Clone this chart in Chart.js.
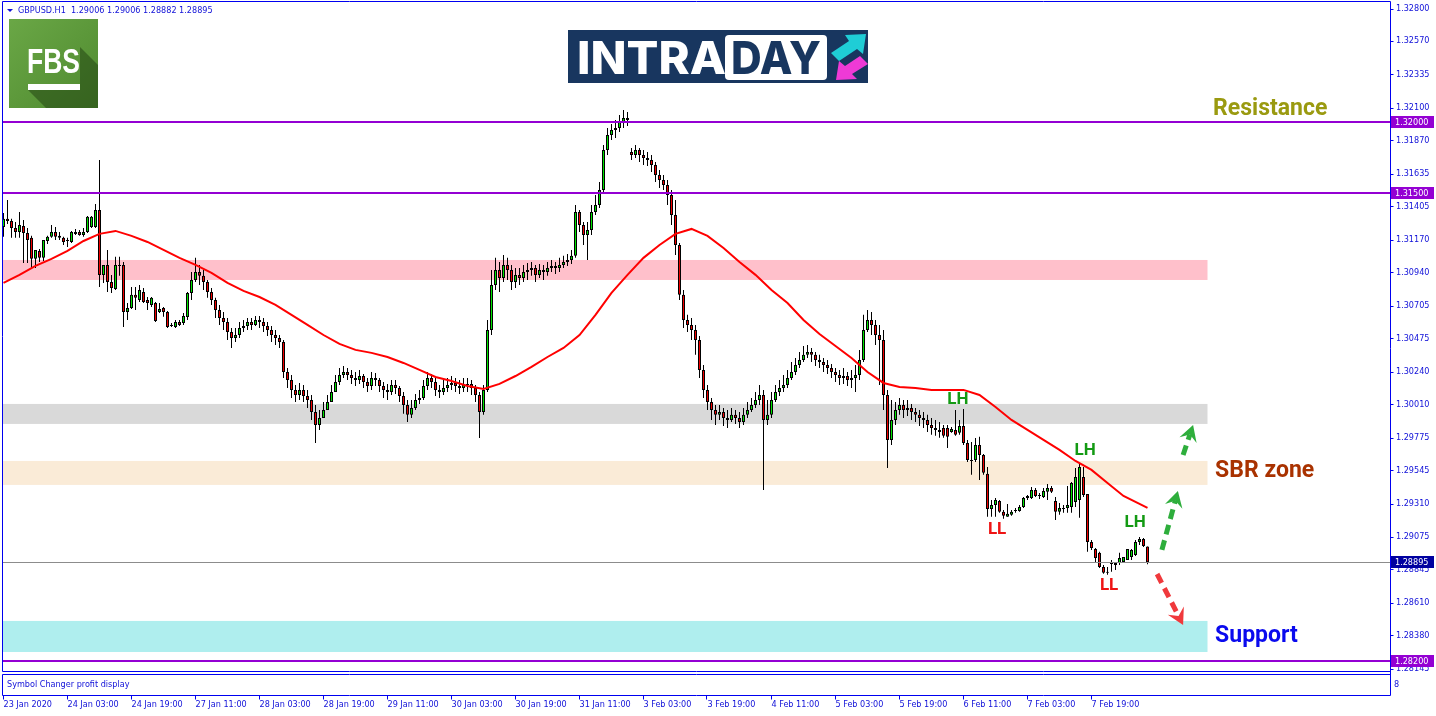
<!DOCTYPE html>
<html>
<head>
<meta charset="utf-8">
<title>GBPUSD H1</title>
<script src="https://cdn.jsdelivr.net/npm/chart.js@4.4.1/dist/chart.umd.min.js"></script>
<style>
html,body{margin:0;padding:0;background:#fff;overflow:hidden;}
canvas{display:block;}
</style>
</head>
<body>
<canvas id="chart" width="1436" height="716"></canvas>
<script>
// ---------------- data ----------------
const symbolName = 'GBPUSD.H1';
const lastBarQuote = ['1.29006', '1.29006', '1.28882', '1.28895'];
const subWindowTitle = 'Symbol Changer profit display';

const xTickLabels = ['23 Jan 2020','24 Jan 03:00','24 Jan 19:00','27 Jan 11:00','28 Jan 03:00','28 Jan 19:00',
  '29 Jan 11:00','30 Jan 03:00','30 Jan 19:00','31 Jan 11:00','3 Feb 03:00','3 Feb 19:00','4 Feb 11:00',
  '5 Feb 03:00','5 Feb 19:00','6 Feb 11:00','7 Feb 03:00','7 Feb 19:00'];
const xTickEvery = 16;

const yTickValues = [1.32800,1.32570,1.32335,1.32100,1.31870,1.31635,1.31405,1.31170,1.30940,1.30705,
  1.30475,1.30240,1.30010,1.29775,1.29545,1.29310,1.29075,1.28845,1.28610,1.28380,1.28145];

const opens = [
1.31260,1.31317,1.31302,1.31253,1.31225,1.31267,1.31218,1.31183,1.31035,1.31091,
1.31042,1.31161,1.31190,1.31225,1.31197,1.31183,1.31161,1.31154,1.31211,1.31225,
1.31204,1.31225,1.31260,1.31260,1.31380,1.30922,1.30992,1.30872,1.30823,1.30985,
1.30992,1.30661,1.30689,1.30781,1.30745,1.30802,1.30745,1.30710,1.30724,1.30661,
1.30689,1.30661,1.30562,1.30555,1.30590,1.30583,1.30625,1.30795,1.30886,1.30943,
1.30915,1.30872,1.30802,1.30745,1.30675,1.30618,1.30590,1.30520,1.30477,1.30498,
1.30548,1.30562,1.30590,1.30569,1.30604,1.30590,1.30562,1.30534,1.30498,1.30477,
1.30449,1.30237,1.30181,1.30111,1.30075,1.30111,1.30068,1.30040,1.29956,1.29864,
1.29913,1.29970,1.30026,1.30097,1.30167,1.30216,1.30237,1.30216,1.30195,1.30181,
1.30209,1.30167,1.30139,1.30195,1.30181,1.30139,1.30111,1.30097,1.30146,1.30125,
1.30068,1.30005,1.29935,1.29984,1.30040,1.30054,1.30139,1.30195,1.30167,1.30111,
1.30097,1.30125,1.30146,1.30160,1.30139,1.30125,1.30146,1.30153,1.30125,1.30075,
1.29956,1.30111,1.30534,1.30851,1.30957,1.30900,1.30992,1.30957,1.30872,1.30922,
1.30900,1.30943,1.30957,1.30971,1.30922,1.30957,1.30943,1.30971,1.30985,1.30971,
1.30992,1.31013,1.31027,1.31056,1.31366,1.31274,1.31204,1.31239,1.31366,1.31415,
1.31521,1.31803,1.31908,1.31944,1.31958,1.32000,1.32028,1.31789,1.31767,1.31803,
1.31767,1.31746,1.31732,1.31697,1.31626,1.31591,1.31556,1.31486,1.31345,1.31133,
1.30781,1.30604,1.30569,1.30534,1.30463,1.30252,1.30111,1.30026,1.29970,1.29935,
1.29956,1.29913,1.29899,1.29935,1.29913,1.29885,1.29935,1.29970,1.30005,1.30040,
1.30075,1.29899,1.29935,1.30040,1.30097,1.30125,1.30146,1.30195,1.30237,1.30287,
1.30322,1.30358,1.30379,1.30358,1.30322,1.30308,1.30287,1.30266,1.30237,1.30216,
1.30195,1.30209,1.30181,1.30195,1.30216,1.30322,1.30534,1.30604,1.30569,1.30498,
1.30463,1.30075,1.29758,1.29899,1.29970,1.30005,1.29970,1.29984,1.29956,1.29935,
1.29913,1.29899,1.29864,1.29843,1.29829,1.29843,1.29843,1.29815,1.29829,1.29808,
1.29857,1.29737,1.29617,1.29617,1.29723,1.29652,1.29519,1.29272,1.29300,1.29328,
1.29251,1.29216,1.29230,1.29258,1.29258,1.29286,1.29349,1.29349,1.29406,1.29370,
1.29356,1.29392,1.29420,1.29328,1.29251,1.29279,1.29279,1.29286,1.29321,1.29335,
1.29497,1.29377,1.29039,1.28990,1.28962,1.28863,1.28828,1.28891,1.28877,1.28891,
1.28898,1.28912,1.28933,1.28947,1.29039,1.29060,1.29006];

const highs = [
1.31359,1.31450,1.31317,1.31295,1.31366,1.31309,1.31253,1.31197,1.31098,1.31105,
1.31168,1.31197,1.31274,1.31260,1.31225,1.31190,1.31183,1.31232,1.31246,1.31239,
1.31253,1.31338,1.31338,1.31422,1.31732,1.30992,1.31098,1.30922,1.31049,1.31049,
1.31013,1.30724,1.30837,1.30837,1.30851,1.30830,1.30766,1.30766,1.30731,1.30724,
1.30696,1.30668,1.30583,1.30604,1.30604,1.30654,1.30802,1.30943,1.31042,1.30992,
1.30957,1.30886,1.30830,1.30760,1.30710,1.30661,1.30618,1.30548,1.30548,1.30590,
1.30604,1.30618,1.30618,1.30632,1.30632,1.30618,1.30590,1.30562,1.30534,1.30498,
1.30463,1.30266,1.30216,1.30146,1.30160,1.30146,1.30111,1.30075,1.30005,1.29970,
1.30026,1.30075,1.30146,1.30216,1.30266,1.30280,1.30266,1.30252,1.30237,1.30252,
1.30223,1.30195,1.30237,1.30230,1.30195,1.30167,1.30153,1.30181,1.30181,1.30139,
1.30097,1.30040,1.30040,1.30082,1.30111,1.30181,1.30237,1.30223,1.30195,1.30146,
1.30181,1.30195,1.30209,1.30195,1.30181,1.30195,1.30195,1.30181,1.30146,1.30097,
1.30146,1.30604,1.30957,1.31042,1.31013,1.31062,1.31042,1.30992,1.30971,1.30971,
1.30992,1.31006,1.31013,1.30992,1.30999,1.30992,1.31013,1.31027,1.31013,1.31042,
1.31056,1.31070,1.31098,1.31415,1.31380,1.31295,1.31295,1.31415,1.31485,1.31577,
1.31838,1.31957,1.31986,1.32014,1.32049,1.32085,1.32070,1.31817,1.31838,1.31817,
1.31803,1.31789,1.31767,1.31718,1.31662,1.31626,1.31591,1.31521,1.31450,1.31147,
1.30816,1.30640,1.30618,1.30569,1.30491,1.30287,1.30146,1.30054,1.30005,1.30005,
1.29984,1.29970,1.29984,1.29970,1.29956,1.29984,1.30026,1.30054,1.30097,1.30146,
1.30111,1.30040,1.30097,1.30146,1.30181,1.30216,1.30252,1.30308,1.30336,1.30378,
1.30421,1.30428,1.30407,1.30379,1.30358,1.30336,1.30322,1.30294,1.30266,1.30252,
1.30266,1.30237,1.30252,1.30287,1.30393,1.30640,1.30675,1.30661,1.30604,1.30569,
1.30534,1.30111,1.30040,1.30026,1.30054,1.30040,1.30040,1.30012,1.29984,1.29970,
1.29956,1.29935,1.29913,1.29899,1.29885,1.29864,1.29864,1.29850,1.29970,1.29899,
1.29977,1.29758,1.29744,1.29772,1.29780,1.29659,1.29568,1.29335,1.29349,1.29335,
1.29265,1.29307,1.29265,1.29279,1.29300,1.29356,1.29370,1.29427,1.29420,1.29384,
1.29420,1.29448,1.29434,1.29356,1.29314,1.29300,1.29434,1.29462,1.29561,1.29589,
1.29568,1.29377,1.29053,1.28997,1.28969,1.28877,1.28863,1.28912,1.28898,1.28962,
1.28933,1.28990,1.28990,1.29053,1.29074,1.29067,1.29006];

const lows = [
1.31190,1.31281,1.31183,1.31183,1.31183,1.31006,1.31006,1.30971,1.30971,1.31013,
1.31020,1.31140,1.31183,1.31168,1.31168,1.31133,1.31119,1.31147,1.31204,1.31197,
1.31190,1.31218,1.31253,1.31253,1.30837,1.30865,1.30802,1.30795,1.30816,1.30915,
1.30555,1.30604,1.30682,1.30675,1.30731,1.30724,1.30675,1.30696,1.30590,1.30654,
1.30626,1.30548,1.30555,1.30548,1.30562,1.30569,1.30604,1.30745,1.30872,1.30851,
1.30816,1.30760,1.30710,1.30618,1.30569,1.30534,1.30463,1.30407,1.30449,1.30477,
1.30520,1.30534,1.30534,1.30562,1.30548,1.30520,1.30491,1.30449,1.30428,1.30407,
1.30195,1.30125,1.30054,1.30026,1.30040,1.30026,1.29984,1.29899,1.29737,1.29829,
1.29913,1.29970,1.30026,1.30097,1.30146,1.30195,1.30181,1.30153,1.30139,1.30153,
1.30125,1.30097,1.30111,1.30139,1.30097,1.30054,1.30040,1.30075,1.30082,1.30026,
1.29942,1.29885,1.29913,1.29970,1.30012,1.30040,1.30111,1.30125,1.30068,1.30054,
1.30075,1.30097,1.30111,1.30097,1.30082,1.30097,1.30097,1.30075,1.30026,1.29772,
1.29935,1.30097,1.30498,1.30816,1.30802,1.30872,1.30886,1.30816,1.30830,1.30851,
1.30872,1.30886,1.30915,1.30872,1.30900,1.30886,1.30915,1.30943,1.30929,1.30943,
1.30971,1.30985,1.30999,1.31042,1.31225,1.31133,1.31027,1.31204,1.31345,1.31394,
1.31507,1.31767,1.31873,1.31887,1.31930,1.31958,1.31972,1.31732,1.31746,1.31718,
1.31697,1.31690,1.31647,1.31577,1.31535,1.31521,1.31415,1.31274,1.31062,1.30745,
1.30548,1.30520,1.30463,1.30358,1.30195,1.30054,1.29970,1.29899,1.29864,1.29899,
1.29857,1.29843,1.29885,1.29871,1.29843,1.29864,1.29913,1.29956,1.29984,1.30005,
1.29406,1.29864,1.29913,1.30026,1.30068,1.30097,1.30125,1.30181,1.30216,1.30266,
1.30308,1.30336,1.30308,1.30280,1.30266,1.30237,1.30223,1.30195,1.30167,1.30146,
1.30153,1.30139,1.30125,1.30097,1.30181,1.30308,1.30520,1.30498,1.30428,1.30146,
1.29970,1.29561,1.29723,1.29864,1.29935,1.29913,1.29927,1.29899,1.29885,1.29857,
1.29843,1.29815,1.29794,1.29787,1.29773,1.29773,1.29702,1.29808,1.29787,1.29794,
1.29723,1.29603,1.29512,1.29603,1.29476,1.29512,1.29216,1.29216,1.29216,1.29244,
1.29202,1.29216,1.29223,1.29244,1.29251,1.29279,1.29335,1.29342,1.29356,1.29342,
1.29349,1.29335,1.29384,1.29194,1.29230,1.29244,1.29244,1.29244,1.29286,1.29209,
1.29356,1.28969,1.28983,1.28898,1.28856,1.28814,1.28807,1.28828,1.28842,1.28877,
1.28891,1.28912,1.28912,1.28940,1.29018,1.29004,1.28882];

const closes = [
1.31317,1.31302,1.31253,1.31225,1.31274,1.31218,1.31168,1.31035,1.31098,1.31042,
1.31168,1.31190,1.31225,1.31190,1.31183,1.31154,1.31168,1.31225,1.31225,1.31204,
1.31225,1.31331,1.31331,1.31380,1.30922,1.30992,1.30872,1.30830,1.30992,1.30992,
1.30661,1.30689,1.30781,1.30760,1.30816,1.30731,1.30724,1.30760,1.30597,1.30682,
1.30661,1.30555,1.30569,1.30590,1.30569,1.30632,1.30795,1.30886,1.30943,1.30915,
1.30872,1.30802,1.30745,1.30675,1.30618,1.30590,1.30520,1.30477,1.30498,1.30548,
1.30562,1.30590,1.30569,1.30604,1.30590,1.30562,1.30534,1.30498,1.30477,1.30449,
1.30237,1.30181,1.30111,1.30075,1.30111,1.30068,1.30040,1.29956,1.29864,1.29913,
1.29970,1.30026,1.30097,1.30167,1.30216,1.30237,1.30216,1.30195,1.30181,1.30209,
1.30167,1.30139,1.30195,1.30181,1.30139,1.30111,1.30097,1.30146,1.30125,1.30068,
1.30005,1.29935,1.29984,1.30040,1.30054,1.30139,1.30195,1.30167,1.30111,1.30097,
1.30125,1.30146,1.30160,1.30139,1.30125,1.30146,1.30153,1.30125,1.30075,1.29956,
1.30111,1.30534,1.30851,1.30957,1.30900,1.30992,1.30957,1.30872,1.30922,1.30900,
1.30943,1.30957,1.30971,1.30922,1.30957,1.30943,1.30971,1.30985,1.30971,1.30992,
1.31013,1.31027,1.31056,1.31366,1.31274,1.31204,1.31239,1.31366,1.31415,1.31521,
1.31803,1.31908,1.31944,1.31958,1.32000,1.32028,1.32014,1.31767,1.31803,1.31767,
1.31746,1.31732,1.31697,1.31626,1.31591,1.31556,1.31486,1.31345,1.31133,1.30781,
1.30604,1.30569,1.30534,1.30463,1.30252,1.30111,1.30026,1.29970,1.29935,1.29956,
1.29913,1.29899,1.29935,1.29913,1.29885,1.29935,1.29970,1.30005,1.30040,1.30075,
1.29899,1.29935,1.30040,1.30097,1.30125,1.30146,1.30195,1.30237,1.30287,1.30322,
1.30358,1.30379,1.30358,1.30322,1.30308,1.30287,1.30266,1.30237,1.30216,1.30195,
1.30209,1.30181,1.30195,1.30216,1.30322,1.30534,1.30604,1.30569,1.30498,1.30463,
1.30075,1.29758,1.29899,1.29970,1.30005,1.29970,1.29984,1.29956,1.29935,1.29913,
1.29899,1.29864,1.29843,1.29829,1.29815,1.29787,1.29780,1.29836,1.29794,1.29857,
1.29737,1.29617,1.29610,1.29723,1.29652,1.29526,1.29272,1.29300,1.29335,1.29251,
1.29223,1.29237,1.29251,1.29265,1.29286,1.29349,1.29363,1.29406,1.29363,1.29363,
1.29399,1.29420,1.29392,1.29251,1.29279,1.29272,1.29300,1.29455,1.29497,1.29568,
1.29370,1.29039,1.28997,1.28926,1.28863,1.28821,1.28821,1.28884,1.28891,1.28926,
1.28933,1.28990,1.28983,1.29039,1.29060,1.29011,1.28895];

const maBars = [0,4,8,12,16,20,24,28,32,36,40,44,48,52,56,60,64,68,72,76,80,84,88,92,96,100,104,108,112,116,
  120,124,128,132,136,140,144,148,152,156,160,164,168,172,176,180,184,188,192,196,200,204,208,212,216,220,
  224,228,232,236,240,244,248,252,256,260,264,268,272,276,280,284,286];
const maValues = [
1.30865,1.30922,1.30985,1.31035,1.31091,1.31161,1.31211,1.31232,1.31197,1.31154,
1.31098,1.31042,1.30992,1.30936,1.30865,1.30809,1.30766,1.30710,1.30640,1.30569,
1.30498,1.30435,1.30393,1.30372,1.30343,1.30301,1.30252,1.30202,1.30174,1.30139,
1.30118,1.30153,1.30209,1.30273,1.30343,1.30407,1.30498,1.30640,1.30795,1.30922,
1.31042,1.31133,1.31211,1.31246,1.31197,1.31112,1.31013,1.30922,1.30816,1.30724,
1.30604,1.30505,1.30421,1.30336,1.30237,1.30160,1.30132,1.30125,1.30111,1.30111,
1.30111,1.30075,1.29991,1.29899,1.29829,1.29758,1.29688,1.29610,1.29547,1.29455,
1.29363,1.29307,1.29279];

const levelPrices = [1.32000, 1.31500, 1.28200];
const currentPrice = 1.28895;

const zoneTops    = [1.31027, 1.30012, 1.29610, 1.28482];
const zoneBottoms = [1.30886, 1.29871, 1.29441, 1.28263];
const zoneEndBar = 301;

const swingText   = ['LH', 'LH', 'LH', 'LL', 'LL'];
const swingBars   = [238.6, 270.4, 282.9, 248.4, 276.4];
const swingPrices = [1.30040, 1.29681, 1.29173, 1.29124, 1.28729];

const zoneText       = ['Resistance', 'SBR zone', 'Support'];
const zoneTextBars   = [302.4, 302.9, 302.9];
const zoneTextPrices = [1.32092, 1.29540, 1.28376];

const arrowFromBars   = [289.6, 294.9, 288.4];
const arrowFromPrices = [1.28983, 1.29652, 1.28813];
const arrowToBars     = [293.6, 297.4, 294.9];
const arrowToPrices   = [1.29398, 1.29864, 1.28454];

// ---------------- styles ----------------
const AXIS_BLUE = '#0000f0';
const TEXT_BLUE = '#1010d8';
const SMALL_FONT = '"DejaVu Sans Condensed", "Liberation Sans", sans-serif';
const BULL = '#00e400', BEAR = '#f00000';
const LEVEL_COLOR = '#9400d3';
const zoneColors = ['#ffc0cb', '#d9d9d9', '#faebd7', '#afeeee'];
const swingColors = ['#139a13', '#139a13', '#139a13', '#ee1414', '#ee1414'];
const zoneTextColors = ['#9a9a10', '#a93200', '#0a0aee'];
const arrowColors = ['#2eae3c', '#2eae3c', '#f0393c'];

// ---------------- build datasets ----------------
const wickData = highs.map((h, i) => ({x: i, y: [lows[i], h]}));
const bodyData = opens.map((o, i) => ({x: i, y: [o, closes[i]]}));
const bodyColors = opens.map((o, i) => closes[i] >= o ? BULL : BEAR);
const maData = maBars.map((b, k) => ({x: b, y: maValues[k]}));

function drawArrow(ctx, x1, y1, x2, y2, color) {
  const ang = Math.atan2(y2 - y1, x2 - x1);
  const len = Math.hypot(x2 - x1, y2 - y1);
  const headLen = 16, headHalf = 9, notch = 6;
  ctx.save();
  ctx.strokeStyle = color; ctx.lineWidth = 5; ctx.setLineDash([10, 6]);
  ctx.beginPath(); ctx.moveTo(x1, y1);
  const l2 = len - headLen + notch;
  ctx.lineTo(x1 + Math.cos(ang) * l2, y1 + Math.sin(ang) * l2);
  ctx.stroke();
  ctx.setLineDash([]);
  ctx.translate(x2, y2); ctx.rotate(ang);
  ctx.fillStyle = color;
  ctx.beginPath(); ctx.moveTo(0, 0); ctx.lineTo(-headLen, -headHalf); ctx.lineTo(-headLen + notch, 0);
  ctx.lineTo(-headLen, headHalf); ctx.closePath(); ctx.fill();
  ctx.restore();
}

function fitText(ctx, text, x, y, width) {
  const w = ctx.measureText(text).width;
  ctx.save(); ctx.translate(x, y); ctx.scale(width / w, 1); ctx.fillText(text, 0, 0); ctx.restore();
}

const overlay = {
  id: 'overlay',
  beforeDatasetsDraw(chart) {
    const {ctx, chartArea: ca, scales: {x, y}} = chart;
    ctx.save();
    const xe = x.getPixelForValue(zoneEndBar);
    zoneTops.forEach((t, k) => {
      const yt = y.getPixelForValue(t), yb = y.getPixelForValue(zoneBottoms[k]);
      ctx.fillStyle = zoneColors[k];
      ctx.fillRect(ca.left, yt, xe - ca.left, yb - yt);
    });
    ctx.restore();
  },
  afterDatasetsDraw(chart) {
    const {ctx, chartArea: ca, scales: {x, y}} = chart;
    ctx.save();
    const yc = Math.round(y.getPixelForValue(currentPrice)) + 0.5;
    ctx.strokeStyle = '#8c8c8c'; ctx.lineWidth = 1;
    ctx.beginPath(); ctx.moveTo(ca.left, yc); ctx.lineTo(ca.right, yc); ctx.stroke();
    ctx.strokeStyle = LEVEL_COLOR; ctx.lineWidth = 2;
    levelPrices.forEach(p => {
      const yy = Math.round(y.getPixelForValue(p));
      ctx.beginPath(); ctx.moveTo(ca.left, yy); ctx.lineTo(ca.right, yy); ctx.stroke();
    });
    ctx.font = 'bold 17px Roboto, "Liberation Sans", sans-serif';
    ctx.textAlign = 'center'; ctx.textBaseline = 'middle';
    swingText.forEach((t, k) => {
      ctx.fillStyle = swingColors[k];
      ctx.fillText(t, x.getPixelForValue(swingBars[k]), y.getPixelForValue(swingPrices[k]));
    });
    ctx.font = 'bold 23px Roboto, "Liberation Sans", sans-serif';
    ctx.textAlign = 'left';
    zoneText.forEach((t, k) => {
      ctx.fillStyle = zoneTextColors[k];
      ctx.fillText(t, x.getPixelForValue(zoneTextBars[k]), y.getPixelForValue(zoneTextPrices[k]));
    });
    arrowFromBars.forEach((b, k) => {
      drawArrow(ctx, x.getPixelForValue(b), y.getPixelForValue(arrowFromPrices[k]),
        x.getPixelForValue(arrowToBars[k]), y.getPixelForValue(arrowToPrices[k]), arrowColors[k]);
    });
    ctx.restore();
  },
  afterDraw(chart) {
    const {ctx, scales: {x, y}} = chart;
    ctx.save();
    const L = 2.5, R = 1390.5, T = 1.5, B = 671.5;
    ctx.strokeStyle = AXIS_BLUE; ctx.lineWidth = 1;
    ctx.beginPath();
    ctx.moveTo(L, T); ctx.lineTo(R, T);
    ctx.moveTo(L, T); ctx.lineTo(L, B);
    ctx.moveTo(L, B); ctx.lineTo(R, B);
    ctx.moveTo(R, T); ctx.lineTo(R, 695.5);
    ctx.moveTo(L, 674.5); ctx.lineTo(R, 674.5);
    ctx.moveTo(L, 674.5); ctx.lineTo(L, 695.5);
    ctx.moveTo(L, 695.5); ctx.lineTo(R, 695.5);
    ctx.stroke();
    ctx.beginPath();
    xTickLabels.forEach((_, k) => {
      const px = Math.round(x.getPixelForValue(k * xTickEvery)) - 0.5;
      ctx.moveTo(px, 695.5); ctx.lineTo(px, 699.5);
    });
    yTickValues.forEach(v => {
      const py = Math.round(y.getPixelForValue(v)) + 0.5;
      ctx.moveTo(R, py); ctx.lineTo(R + 3, py);
    });
    ctx.stroke();
    ctx.font = '9px ' + SMALL_FONT;
    ctx.textAlign = 'left'; ctx.textBaseline = 'middle';
    const boxes = levelPrices.map(p => [p, LEVEL_COLOR]).concat([[currentPrice, '#0000a0']]);
    boxes.forEach(([p, col]) => {
      const py = Math.round(y.getPixelForValue(p));
      ctx.fillStyle = col; ctx.fillRect(1391, py - 6, 43, 12);
      ctx.fillStyle = '#ffffff'; ctx.fillText(p.toFixed(5), 1395, py + 0.5);
    });
    ctx.fillStyle = TEXT_BLUE;
    ctx.beginPath(); ctx.moveTo(7, 9); ctx.lineTo(13, 9); ctx.lineTo(10, 12); ctx.closePath(); ctx.fill();
    ctx.fillText(symbolName + '  ' + lastBarQuote.join(' '), 18, 10.5);
    ctx.fillText(subWindowTitle, 7, 684.5);
    ctx.fillText('8', 1394, 684.5);
    // FBS logo
    const g = ctx.createLinearGradient(9, 19, 98, 108);
    g.addColorStop(0, '#6aa746'); g.addColorStop(1, '#4f8a2f');
    ctx.fillStyle = g; ctx.fillRect(9, 19, 89, 89);
    ctx.fillStyle = 'rgba(35,70,18,0.55)';
    ctx.beginPath(); ctx.moveTo(28, 90); ctx.lineTo(80, 90); ctx.lineTo(80, 47); ctx.lineTo(98, 65);
    ctx.lineTo(98, 108); ctx.lineTo(46, 108); ctx.closePath(); ctx.fill();
    ctx.fillStyle = '#ffffff';
    ctx.font = 'bold 35px "Liberation Sans Narrow", "Liberation Sans", sans-serif';
    ctx.textBaseline = 'alphabetic';
    fitText(ctx, 'FBS', 27, 73, 53);
    ctx.fillRect(28, 84, 52, 6);
    // INTRADAY logo
    ctx.fillStyle = '#18365f'; ctx.fillRect(568, 30, 300, 53);
    ctx.fillStyle = '#ffffff';
    ctx.font = '800 45px Inter, "Open Sans", sans-serif';
    fitText(ctx, 'INTRA', 577, 74, 149);
    ctx.beginPath(); ctx.roundRect(725, 35, 102, 45, 4); ctx.fill();
    ctx.fillStyle = '#18365f';
    fitText(ctx, 'DAY', 731, 74, 90);
    ctx.fillStyle = '#1fcdd6';
    ctx.beginPath(); ctx.moveTo(831, 53); ctx.lineTo(849, 41); ctx.lineTo(845, 35); ctx.lineTo(866, 34);
    ctx.lineTo(863, 54); ctx.lineTo(857, 49); ctx.lineTo(839, 61); ctx.closePath(); ctx.fill();
    ctx.fillStyle = '#ef3ad6';
    ctx.beginPath(); ctx.moveTo(836, 80); ctx.lineTo(839, 61); ctx.lineTo(845, 66); ctx.lineTo(860, 56);
    ctx.lineTo(868, 64); ctx.lineTo(852, 74); ctx.lineTo(857, 79); ctx.closePath(); ctx.fill();
    ctx.restore();
  }
};

Chart.defaults.font.family = SMALL_FONT;
Chart.defaults.font.size = 9;
Chart.defaults.color = TEXT_BLUE;

new Chart(document.getElementById('chart'), {
  type: 'bar',
  data: {
    datasets: [
      { type: 'line', label: 'MA', data: maData, borderColor: '#ff0000', borderWidth: 2,
        pointRadius: 0, tension: 0, order: 0, clip: 6 },
      { label: 'body', data: bodyData, backgroundColor: bodyColors, borderColor: '#000000',
        borderWidth: 1, borderSkipped: false, barThickness: 3, grouped: false, inflateAmount: 0,
        minBarLength: 1, order: 1, clip: 6 },
      { label: 'wick', data: wickData, backgroundColor: '#000000', borderWidth: 0,
        barThickness: 1, grouped: false, inflateAmount: 0, order: 2, clip: 6 }
    ]
  },
  options: {
    responsive: false,
    animation: false,
    devicePixelRatio: 1,
    layout: { padding: { left: 2, top: 2, right: 0, bottom: 0 } },
    plugins: { legend: { display: false }, tooltip: { enabled: false } },
    scales: {
      x: {
        type: 'linear', min: -0.375, max: 346.625, offset: false,
        grid: { display: false, drawTicks: false, tickLength: 0 },
        border: { display: false },
        afterBuildTicks: s => { s.ticks = xTickLabels.map((_, k) => ({ value: k * xTickEvery })); },
        afterFit: s => { s.height = 45; s.paddingLeft = 0; s.paddingRight = 0; s.paddingTop = 0; s.paddingBottom = 0; },
        ticks: { autoSkip: false, maxRotation: 0, minRotation: 0, align: 'start', padding: 28,
          color: TEXT_BLUE, font: { size: 9 },
          callback: v => xTickLabels[Math.round(v / xTickEvery)] }
      },
      y: {
        type: 'linear', position: 'right', min: 1.28129, max: 1.32846,
        grid: { display: false, drawTicks: false, tickLength: 0 },
        border: { display: false },
        afterBuildTicks: s => { s.ticks = yTickValues.map(v => ({ value: v })); },
        afterFit: s => { s.width = 46; s.paddingLeft = 0; s.paddingRight = 0; s.paddingTop = 0; s.paddingBottom = 0; },
        ticks: { autoSkip: false, padding: 6, color: TEXT_BLUE, font: { size: 9 },
          callback: v => Number(v).toFixed(5) }
      }
    }
  },
  plugins: [overlay]
});
</script>
</body>
</html>
